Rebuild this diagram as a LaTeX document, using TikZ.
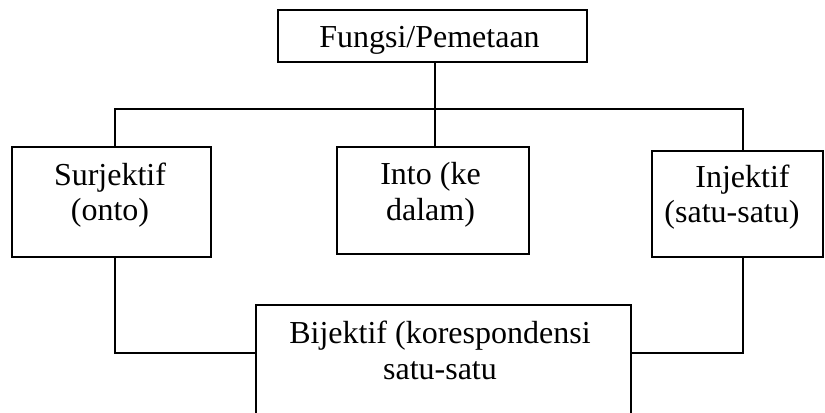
\documentclass[tikz,border=0pt]{standalone}
\usepackage{fontspec}
\setmainfont{Liberation Serif}
\begin{document}
\begin{tikzpicture}[x=0.75pt,y=-0.75pt,
  box/.style={draw=black,line width=1.5pt,rectangle,inner sep=0pt,outer sep=0pt},
  txt/.style={anchor=base,inner sep=0pt,font=\fontsize{24}{27}\selectfont},
  link/.style={draw=black,line width=1.5pt}]
\useasboundingbox (0,0) rectangle (825,412);
\clip (0,0) rectangle (825,412);

% boxes
\node[box,minimum width=231.75pt,minimum height=39pt] (fungsi) at (432.5,36) {};
\node[box,minimum width=149.25pt,minimum height=82.5pt] (surj) at (111.5,202) {};
\node[box,minimum width=144pt,minimum height=80.25pt] (into) at (433,200.5) {};
\node[box,minimum width=128.25pt,minimum height=79.5pt] (inj) at (737.5,204) {};
\node[box,minimum width=281.25pt,minimum height=101.25pt] (bij) at (443.5,372.5) {};

% labels
\begin{scope}
  \clip (278,10) rectangle (587,54.5);
  \node[txt] (tf) at (429.5,47.5) {Fungsi/Pemetaan};
\end{scope}
\node[txt] (ts1) at (110,185) {Surjektif};
\node[txt] (ts2) at (110,220) {(onto)};
\node[txt] (ti1) at (430.5,184.5) {Into (ke};
\node[txt] (ti2) at (430.5,220) {dalam)};
\node[txt] (tj1) at (742.5,187) {Injektif};
\node[txt] (tj2) at (732,222) {(satu-satu)};
\node[txt] (tb1) at (440,343) {Bijektif (korespondensi};
\node[txt] (tb2) at (440,379) {satu-satu};

% junction points of the tree
\coordinate (jL) at (115,109);
\coordinate (jR) at (743,109);
\coordinate (bL) at (115,353);
\coordinate (bR) at (743,353);

% connectors
\draw[link] (fungsi.south -| 435,0) -- (into.north -| 435,0);
\draw[link] (surj.north -| jL) -- (jL) -- (jR) -- (inj.north -| jR);
\draw[link] (surj.south -| bL) -- (bL) -- (bij.west |- bL);
\draw[link] (inj.south -| bR) -- (bR) -- (bij.east |- bR);
\end{tikzpicture}
\end{document}
